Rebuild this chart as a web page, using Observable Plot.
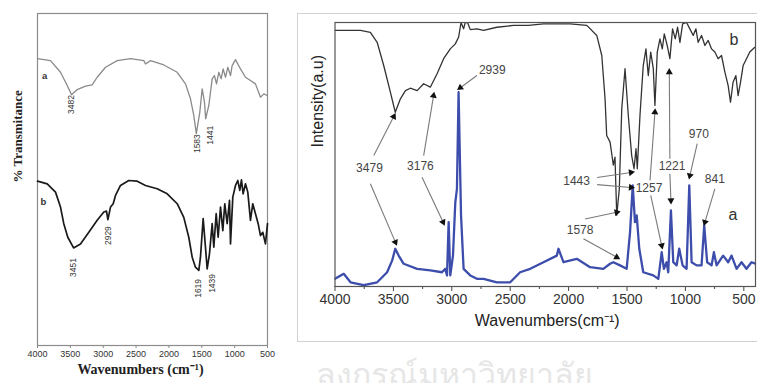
<!DOCTYPE html>
<html><head><meta charset="utf-8">
<script src="https://cdn.jsdelivr.net/npm/d3@7"></script>
<script src="https://cdn.jsdelivr.net/npm/@observablehq/plot@0.6"></script>
<style>
body{margin:0;background:#fff;overflow:hidden}
#wrap{position:relative;width:757px;height:383px;overflow:hidden;background:#fff}
#left{position:absolute;left:0;top:0}
#right{position:absolute;left:290px;top:0}
#box{position:absolute;left:297px;top:13px;width:470px;height:327px;border:1.5px solid #d2d2d2}
#wm{position:absolute;left:316px;top:349px;font:32px "DejaVu Sans","Noto Sans",sans-serif;color:#e6e6e6;white-space:nowrap}
</style></head><body>
<div id="wrap"><div id="wm">ลงกรณ์มหาวิทยาลัย</div><div id="box"></div><div id="left"></div><div id="right"></div></div>
<script>
// ---------- left panel (FTIR, % transmittance) ----------
const leftWaveA = [4000,3802,3650,3548,3482,3396,3270,3168,3092,2965,2787,2585,2382,2357,2280,2078,1874,1748,1672,1622,1583,1530,1494,1459,1441,1393,1342,1307,1276,1241,1205,1175,1139,1104,1063,1038,987,911,835,759,683,607,556,505];
const leftA = [86.4,85.8,82.3,78.3,75.5,77.1,78.1,78.5,80.8,83.8,85.8,86.4,85.8,84.8,85.8,84.5,82.3,78.8,74.3,69.3,63.8,70.3,77.3,73.3,68.3,72.3,80.3,81.3,78.8,82.3,80.3,83.3,80.8,83.8,81.3,84.3,86.1,83.3,80.8,79.8,78.8,74.8,75.8,75.3];
const leftWaveB = [4000,3852,3726,3650,3600,3539,3451,3346,3219,3092,2991,2950,2929,2889,2848,2813,2737,2611,2483,2357,2179,2026,1874,1774,1698,1646,1596,1545,1520,1479,1444,1418,1383,1342,1317,1281,1251,1215,1180,1150,1114,1078,1063,1028,987,952,922,896,871,835,800,759,724,683,642,607,572,531,500];
const leftB = [49.5,48.7,46.2,41.7,36.7,32.6,29.4,30.6,34.1,37.7,40.2,40.5,37.9,41.7,42.7,45.2,48.2,49.7,49.5,48.2,47.2,45.7,42.7,38.6,32.6,26.6,23.6,22.6,26.6,38.2,29.6,23.1,27.6,36.7,29.6,39.7,32.6,41.7,34.6,42.7,36.7,43.7,30.6,44.7,48.2,49.7,46.7,49.9,45.7,48.7,46.2,37.7,42.7,39.7,36.7,33.1,34.1,30.6,36.7];
const leftTicks = [4000,3500,3000,2500,2000,1500,1000,500];
const leftPeakText = ["3482","1583","1441","3451","2929","1619","1439"];
const leftPeakW = [3483,1565,1367,3452,2920,1550,1337];
const leftPeakV = [72.6,60.8,63.3,23.5,33.1,17.2,18.7];
const leftSeriesText = ["a","b"];
const leftSeriesW = [3893,3909];
const leftSeriesV = [81.3,43.1];

// ---------- right panel (Raman a, FTIR b) ----------
const rightWaveB = [4000,3782,3697,3639,3583,3526,3484,3440,3397,3355,3297,3241,3184,3126,3070,3013,2970,2942,2921,2899,2885,2865,2842,2785,2728,2614,2472,2344,2215,1987,1844,1759,1716,1688,1674,1645,1630,1617,1603,1588,1566,1545,1517,1489,1460,1440,1423,1412,1389,1361,1338,1318,1297,1275,1261,1241,1218,1198,1181,1156,1133,1110,1087,1067,1047,1024,990,962,933,910,891,862,833,805,776,748,720,691,662,634,614,592,568,549,528,506,477,449,406];
const rightB = [97.0,97.0,96.3,92.5,83.7,73.6,66.0,71.1,74.2,75.1,74.2,76.8,75.5,80.6,86.3,90.0,91.9,94.4,100,97.6,100,100,97.3,97.6,97.0,98.2,98.9,98.9,99.5,99.5,98.9,95.1,87.5,71.1,57.2,54.7,50.0,46.0,49.0,27.0,37.0,67.3,82.5,64.8,49.6,44.6,52.2,44.6,64.8,83.7,90.0,79.9,88.8,82.5,68.6,88.8,93.8,90.0,95.7,91.3,86.3,97.6,93.8,98.2,92.5,99.5,100,97.6,95.1,97.6,92.5,95.1,91.3,93.2,90.0,88.8,86.3,87.5,81.2,76.1,69.8,77.4,79.9,72.3,77.4,83.7,86.3,88.8,90.6];
const rightWaveA = [4000,3925,3867,3754,3639,3554,3511,3484,3455,3412,3297,3184,3084,3056,3041,3027,3013,2990,2970,2956,2942,2921,2899,2842,2785,2728,2614,2500,2415,2329,2215,2101,2087,2044,1930,1816,1703,1645,1617,1560,1503,1474,1451,1432,1417,1395,1361,1275,1232,1203,1184,1161,1147,1124,1104,1075,1053,1024,990,967,947,904,862,839,814,776,756,733,677,634,605,562,520,477,434,400];
const rightA = [2.9,4.8,1.6,0.5,1.6,5.4,9.8,14.3,11.7,8.6,6.7,6.1,5.4,6.7,4.2,24.4,4.2,11.7,31.9,37.0,73.6,26.9,6.7,4.2,2.9,2.9,1.6,1.6,5.4,6.7,9.2,11.7,14.3,9.2,10.5,7.3,6.7,8.6,9.2,8.0,6.7,20.6,38.3,24.4,26.9,14.3,5.4,4.2,2.9,13.0,6.7,9.2,5.4,28.8,9.2,8.0,14.3,8.0,6.7,38.3,9.2,8.0,8.0,23.1,9.2,8.0,13.0,8.0,11.7,9.2,11.7,6.7,9.2,6.7,9.2,8.6];
const rightTicks = [4000,3500,3000,2500,2000,1500,1000,500];
const rightMinorTicks = [3750,3250,2750,2250,1750,1250,750];
const rightLabelText = ["2939","3479","3176","1443","1578","1257","1221","970","841"];
const rightLabelW = [2654,3705,3269,1932,1902,1312,1115,885,748];
const rightLabelV = [81.8,44.7,45.5,39.8,21.2,37.1,45.5,57.6,40.5];
const arrowFromW = [2785,3668,3697,3241,3255,1756,1756,1859,1873,1303,1297,1133,1133,899,748];
const arrowFromV = [79.9,49.6,38.9,49.6,41.4,41.3,38.6,25.6,18.1,40.2,34.5,48.4,42.7,54.1,37.0];
const arrowToW = [2927,3497,3483,3156,3075,1466,1466,1588,1588,1261,1203,1138,1124,962,833];
const arrowToV = [75.3,64.4,16.8,72.3,24.4,43.2,37.5,28.1,11.1,66.0,15.5,81.2,32.6,42.0,24.4];
const rightSeriesText = ["b","a"];
const rightSeriesW = [585,593];
const rightSeriesV = [93.6,27.3];

const pts = (ws, vs) => ws.map((w, i) => ({w, v: vs[i]}));
const lbl = (ts, ws, vs) => ts.map((t, i) => ({t, w: ws[i], v: vs[i]}));

const left = Plot.plot({
  width: 290, height: 383,
  marginTop: 13, marginRight: 23, marginBottom: 38, marginLeft: 37,
  style: {fontFamily: "'Liberation Sans', Arial, sans-serif", background: "transparent", color: "#333"},
  x: {domain: [4000, 500], axis: null, label: null},
  y: {domain: [0, 100], axis: null, label: null},
  marks: [
    Plot.axisX(leftTicks, {tickSize: 3, tickPadding: 2, tickFormat: "d", fontSize: 9, stroke: "#888", fill: "#333", label: null}),
    Plot.frame({stroke: "#8c8c8c", strokeWidth: 1.2}),
    Plot.line(pts(leftWaveA, leftA), {x: "w", y: "v", stroke: "#8a8a8a", strokeWidth: 1.3}),
    Plot.line(pts(leftWaveB, leftB), {x: "w", y: "v", stroke: "#1a1a1a", strokeWidth: 1.7}),
    Plot.text(lbl(leftPeakText, leftPeakW, leftPeakV), {x: "w", y: "v", text: "t", rotate: -90, fontSize: 8.5, fill: "#333"}),
    Plot.text(lbl(leftSeriesText, leftSeriesW, leftSeriesV), {x: "w", y: "v", text: "t", fontSize: 9.5, fontWeight: "bold", fill: "#333"}),
    Plot.text(["Wavenumbers (cm\u207B\u00B9)"], {frameAnchor: "bottom", dx: -12, dy: 28, fontFamily: "'Liberation Serif', 'Times New Roman', serif", fontWeight: "bold", fontSize: 14, fill: "#222"}),
    Plot.text(["% Transmitance"], {frameAnchor: "left", dx: -20, dy: 3, rotate: -90, fontFamily: "'Liberation Serif', 'Times New Roman', serif", fontWeight: "bold", fontSize: 13, fill: "#222"})
  ]
});
document.getElementById("left").appendChild(left);

// screen-space direction of each arrow (x reversed, y up) for the head rotation
const kx = (467 - 44.5 - 2) / 3600, ky = (383 - 22 - 97) / 100;
const arrows = arrowFromW.map((w, i) => {
  const dxp = -(arrowToW[i] - w) * kx;
  const dyp = -(arrowToV[i] - arrowFromV[i]) * ky;
  return {x1: w, y1: arrowFromV[i], x2: arrowToW[i], y2: arrowToV[i],
          ang: Math.atan2(dxp, -dyp) * 180 / Math.PI};
});

const right = Plot.plot({
  width: 467, height: 383,
  marginTop: 22, marginRight: 2, marginBottom: 97, marginLeft: 44.5,
  style: {fontFamily: "'Liberation Sans', Arial, sans-serif", background: "transparent", color: "#333"},
  x: {domain: [4000, 400], axis: null, label: null},
  y: {domain: [0, 100], axis: null, label: null},
  marks: [
    Plot.axisX(rightTicks, {tickSize: 5, tickPadding: 3, tickFormat: "d", fontSize: 14, stroke: "#444", fill: "#333", label: null}),
    Plot.axisX(rightMinorTicks, {tickSize: 3, text: null, stroke: "#444", label: null}),
    Plot.line(pts(rightWaveB, rightB), {x: "w", y: "v", stroke: "#333", strokeWidth: 1.3, clip: true}),
    Plot.line(pts(rightWaveA, rightA), {x: "w", y: "v", stroke: "#3d4dab", strokeWidth: 2.3, clip: true}),
    Plot.frame({stroke: "#555", strokeWidth: 1.2}),
    Plot.link(arrows, {x1: "x1", y1: "y1", x2: "x2", y2: "y2", stroke: "#7a7a7a", strokeWidth: 1.1}),
    Plot.dot(arrows, {x: "x2", y: "y2", symbol: "triangle", r: 2.6, fill: "#111", stroke: "none", rotate: "ang"}),
    Plot.text(lbl(rightLabelText, rightLabelW, rightLabelV), {x: "w", y: "v", text: "t", fontSize: 12, fill: "#444"}),
    Plot.text(lbl(rightSeriesText, rightSeriesW, rightSeriesV), {x: "w", y: "v", text: "t", fontSize: 16, fill: "#333"}),
    Plot.text(["Wavenumbers(cm\u207B\u00B9)"], {frameAnchor: "bottom", dx: 2, dy: 39, fontSize: 16, fill: "#222"}),
    Plot.text(["Intensity(a.u)"], {frameAnchor: "left", dx: -17.5, dy: -7, rotate: -90, fontSize: 16, fill: "#222"})
  ]
});
document.getElementById("right").appendChild(right);
</script>
</body></html>
